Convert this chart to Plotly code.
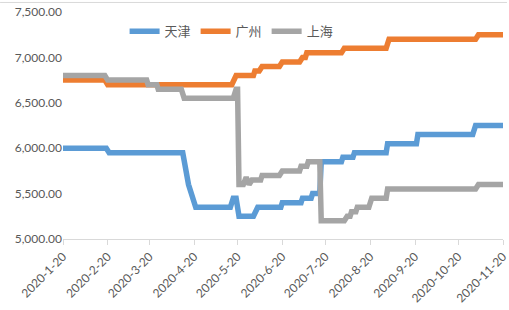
import plotly.graph_objects as go

# ---- data ----
tianjin_dates = ["2020-01-20", "2020-02-19", "2020-02-21", "2020-04-12", "2020-04-16", "2020-04-18",
                 "2020-04-21", "2020-05-15", "2020-05-17", "2020-05-19", "2020-05-21", "2020-05-31",
                 "2020-06-01", "2020-06-02", "2020-06-03", "2020-06-19", "2020-06-20", "2020-07-03",
                 "2020-07-04", "2020-07-10", "2020-07-11", "2020-07-16", "2020-07-17", "2020-07-31",
                 "2020-08-01", "2020-08-08", "2020-08-09", "2020-08-31", "2020-09-01", "2020-09-21",
                 "2020-09-22", "2020-10-30", "2020-11-01", "2020-11-20"]
tianjin_vals = [6000, 6000, 5950, 5950, 5600, 5500,
                5350, 5350, 5450, 5450, 5250, 5250,
                5300, 5300, 5350, 5350, 5400, 5400,
                5450, 5450, 5500, 5500, 5850, 5850,
                5900, 5900, 5950, 5950, 6050, 6050,
                6150, 6150, 6250, 6250]

guangzhou_dates = ["2020-01-20", "2020-02-18", "2020-02-20", "2020-05-16", "2020-05-19", "2020-05-31",
                   "2020-06-01", "2020-06-04", "2020-06-06", "2020-06-18", "2020-06-20", "2020-07-02",
                   "2020-07-04", "2020-07-06", "2020-07-07", "2020-07-31", "2020-08-02", "2020-08-31",
                   "2020-09-02", "2020-11-01", "2020-11-03", "2020-11-20"]
guangzhou_vals = [6750, 6750, 6700, 6700, 6800, 6800,
                  6850, 6850, 6900, 6900, 6950, 6950,
                  7000, 7000, 7050, 7050, 7100, 7100,
                  7200, 7200, 7250, 7250]

shanghai_dates = ["2020-01-20", "2020-02-18", "2020-02-20", "2020-03-18", "2020-03-19", "2020-03-25",
                  "2020-03-26", "2020-04-11", "2020-04-13", "2020-05-17", "2020-05-19", "2020-05-20",
                  "2020-05-21", "2020-05-24", "2020-05-26", "2020-05-28", "2020-05-30", "2020-06-05",
                  "2020-06-06", "2020-06-18", "2020-06-20", "2020-07-02", "2020-07-03", "2020-07-07",
                  "2020-07-08", "2020-07-16", "2020-07-17", "2020-08-02", "2020-08-04", "2020-08-06",
                  "2020-08-07", "2020-08-10", "2020-08-11", "2020-08-19", "2020-08-21", "2020-08-31",
                  "2020-09-01", "2020-11-01", "2020-11-03", "2020-11-20"]
shanghai_vals = [6800, 6800, 6750, 6750, 6700, 6700,
                 6650, 6650, 6550, 6550, 6650, 6650,
                 5600, 5600, 5680, 5600, 5650, 5650,
                 5700, 5700, 5750, 5750, 5800, 5800,
                 5850, 5850, 5200, 5200, 5250, 5250,
                 5300, 5300, 5350, 5350, 5450, 5450,
                 5550, 5550, 5600, 5600]

tick_dates = ["2020-01-20", "2020-02-20", "2020-03-20", "2020-04-20", "2020-05-20", "2020-06-20",
              "2020-07-20", "2020-08-20", "2020-09-20", "2020-10-20", "2020-11-20"]
tick_labels = ["2020-1-20", "2020-2-20", "2020-3-20", "2020-4-20", "2020-5-20", "2020-6-20",
               "2020-7-20", "2020-8-20", "2020-9-20", "2020-10-20", "2020-11-20"]

names = ["天津", "广州", "上海"]
colors = ["#5B9BD5", "#ED7D31", "#A5A5A5"]

fig = go.Figure()
for nm, d, v, c in zip(names,
                       [tianjin_dates, guangzhou_dates, shanghai_dates],
                       [tianjin_vals, guangzhou_vals, shanghai_vals],
                       colors):
    fig.add_trace(go.Scatter(x=d, y=v, name=nm, mode="lines",
                             line=dict(color=c, width=5.5)))

fig.update_layout(
    width=509, height=310,
    margin=dict(l=63, r=6, t=12, b=71),
    paper_bgcolor="white", plot_bgcolor="white",
    font=dict(family="Lato, 'Noto Sans CJK SC', sans-serif", size=11, color="#595959"),
    showlegend=True,
    legend=dict(orientation="h", x=0.14, xanchor="left", y=0.915, yanchor="middle",
                font=dict(family="'Noto Sans CJK SC', sans-serif", size=13, color="#595959"),
                bgcolor="rgba(0,0,0,0)", itemwidth=30, tracegroupgap=0),
    shapes=[dict(type="line", xref="paper", yref="paper", x0=-0.143, x1=1.009,
                 y0=1.042, y1=1.042, line=dict(color="#d9d9d9", width=1))],
)
fig.update_xaxes(type="date", range=["2020-01-20", "2020-11-20 00:00:01"], automargin=False,
                 tickmode="array", tickvals=tick_dates, ticktext=tick_labels,
                 tickangle=-45, showgrid=False, showline=True, linecolor="#d9d9d9",
                 linewidth=1, ticks="outside", ticklen=5, tickcolor="#d9d9d9",
                 ticklabeloverflow="allow",
                 tickfont=dict(size=12, color="#595959"), zeroline=False)
fig.update_yaxes(range=[5000, 7500], dtick=500, tickformat=",.2f", showgrid=False,
                 automargin=False, showline=False, zeroline=False, ticks="",
                 tickfont=dict(size=12, color="#595959"))

fig.write_html("out.html", config={"displayModeBar": False},
               post_script="document.body.style.margin='0';")
